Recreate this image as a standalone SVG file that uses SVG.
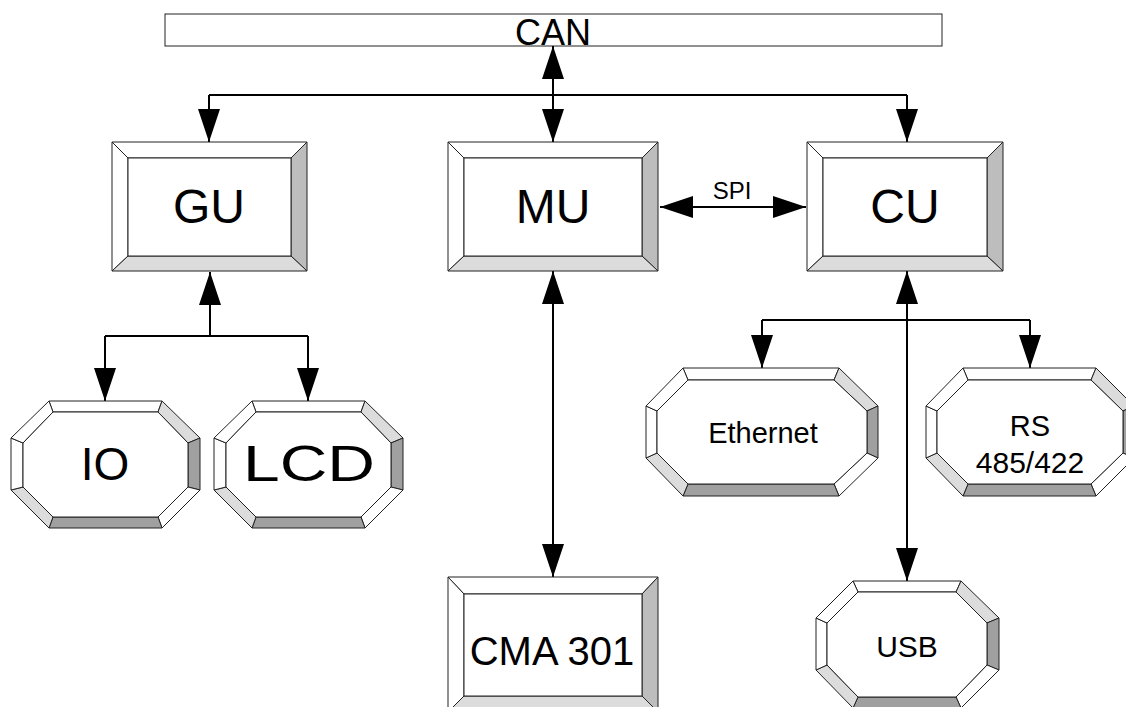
<svg xmlns="http://www.w3.org/2000/svg" width="1126" height="707" viewBox="0 0 1126 707">
<style>
.o{stroke:#222;stroke-width:1;stroke-linejoin:miter}
.w{fill:#ffffff}
.l{fill:#dcdcdc}
.m{fill:#bdbdbd}
.d{fill:#a0a0a0}
.t{font-family:"Liberation Sans",Arial,sans-serif;fill:#000;text-anchor:middle}
.c{stroke:#000;stroke-width:2;fill:none}
</style>
<defs>
<marker id="ah" markerUnits="userSpaceOnUse" markerWidth="33" markerHeight="22" refX="33" refY="11" orient="auto-start-reverse">
<path d="M0,0 L33,11 L0,22 z" fill="#000"/>
</marker>
</defs>
<rect width="1126" height="707" fill="#fff"/>

<g id="can">
<rect x="165" y="14" width="777" height="32" fill="#fff" class="o"/>
<text class="t" x="553" y="45" font-size="36">CAN</text>
</g>

<g id="connectors">
<path class="c" d="M553,46 L553,142" marker-start="url(#ah)" marker-end="url(#ah)"/>
<path class="c" d="M209,95 L907,95"/>
<path class="c" d="M209,95 L209,142" marker-end="url(#ah)"/>
<path class="c" d="M907,95 L907,142" marker-end="url(#ah)"/>
<path class="c" d="M660,207 L806,207" marker-start="url(#ah)" marker-end="url(#ah)"/>
<path class="c" d="M210,336 L210,272" marker-end="url(#ah)"/>
<path class="c" d="M105,336 L308,336"/>
<path class="c" d="M105,336 L105,401" marker-end="url(#ah)"/>
<path class="c" d="M308,336 L308,401" marker-end="url(#ah)"/>
<path class="c" d="M553,271 L553,577" marker-start="url(#ah)" marker-end="url(#ah)"/>
<path class="c" d="M907,271 L907,581" marker-start="url(#ah)" marker-end="url(#ah)"/>
<path class="c" d="M762,320 L1030,320"/>
<path class="c" d="M762,320 L762,368" marker-end="url(#ah)"/>
<path class="c" d="M1030,320 L1030,368" marker-end="url(#ah)"/>
<text class="t" x="732" y="199" font-size="24">SPI</text>
</g>

<g id="gu">
<polygon class="o w" points="112,142 307,142 291,158 128,158"/>
<polygon class="o w" points="112,142 128,158 128,256 112,271"/>
<polygon class="o m" points="307,142 307,271 291,256 291,158"/>
<polygon class="o l" points="112,271 128,256 291,256 307,271"/>
<rect class="o w" x="128" y="158" width="163" height="98"/>
<text class="t" x="209" y="223" font-size="48">GU</text>
</g>

<g id="mu">
<polygon class="o w" points="448,142 658,142 642,158 464,158"/>
<polygon class="o w" points="448,142 464,158 464,256 448,271"/>
<polygon class="o m" points="658,142 658,271 642,256 642,158"/>
<polygon class="o l" points="448,271 464,256 642,256 658,271"/>
<rect class="o w" x="464" y="158" width="178" height="98"/>
<text class="t" x="553" y="223" font-size="48">MU</text>
</g>

<g id="cu">
<polygon class="o w" points="807,142 1003,142 987,158 823,158"/>
<polygon class="o w" points="807,142 823,158 823,256 807,271"/>
<polygon class="o m" points="1003,142 1003,271 987,256 987,158"/>
<polygon class="o l" points="807,271 823,256 987,256 1003,271"/>
<rect class="o w" x="823" y="158" width="164" height="98"/>
<text class="t" x="905" y="223" font-size="48">CU</text>
</g>

<g id="cma301">
<polygon class="o w" points="448,577 658,577 642,594 464,594"/>
<polygon class="o w" points="448,577 464,594 464,696 448,712"/>
<polygon class="o m" points="658,577 658,712 642,696 642,594"/>
<polygon class="o l" points="448,712 464,696 642,696 658,712"/>
<rect class="o w" x="464" y="594" width="178" height="102"/>
<text class="t" x="552" y="665" font-size="40">CMA 301</text>
</g>

<g id="io">
<polygon class="o w" points="49,401 162,401 158,412 53,412"/>
<polygon class="o l" points="162,401 200,438 188,443 158,412"/>
<polygon class="o d" points="200,438 200,490 188,487 188,443"/>
<polygon class="o w" points="200,490 162,528 158,517 188,487"/>
<polygon class="o d" points="162,528 49,528 53,517 158,517"/>
<polygon class="o l" points="49,528 11,490 23,487 53,517"/>
<polygon class="o w" points="11,490 11,438 23,443 23,487"/>
<polygon class="o w" points="11,438 49,401 53,412 23,443"/>
<polygon class="o w" points="53,412 158,412 188,443 188,487 158,517 53,517 23,487 23,443"/>
<text class="t" x="105" y="480" font-size="46">IO</text>
</g>

<g id="lcd">
<polygon class="o w" points="252,401 365,401 361,412 256,412"/>
<polygon class="o l" points="365,401 403,438 391,443 361,412"/>
<polygon class="o d" points="403,438 403,490 391,487 391,443"/>
<polygon class="o w" points="403,490 365,528 361,517 391,487"/>
<polygon class="o d" points="365,528 252,528 256,517 361,517"/>
<polygon class="o l" points="252,528 214,490 226,487 256,517"/>
<polygon class="o w" points="214,490 214,438 226,443 226,487"/>
<polygon class="o w" points="214,438 252,401 256,412 226,443"/>
<polygon class="o w" points="256,412 361,412 391,443 391,487 361,517 256,517 226,487 226,443"/>
<text class="t" x="309" y="481" font-size="50" textLength="132" lengthAdjust="spacingAndGlyphs">LCD</text>
</g>

<g id="ethernet">
<polygon class="o w" points="683,368 839,368 834,380 688,380"/>
<polygon class="o l" points="839,368 878,406 867,411 834,380"/>
<polygon class="o d" points="878,406 878,458 867,453 867,411"/>
<polygon class="o w" points="878,458 839,496 834,484 867,453"/>
<polygon class="o d" points="839,496 683,496 688,484 834,484"/>
<polygon class="o l" points="683,496 646,458 657,453 688,484"/>
<polygon class="o w" points="646,458 646,406 657,411 657,453"/>
<polygon class="o w" points="646,406 683,368 688,380 657,411"/>
<polygon class="o w" points="688,380 834,380 867,411 867,453 834,484 688,484 657,453 657,411"/>
<text class="t" x="763" y="443" font-size="29">Ethernet</text>
</g>

<g id="rs485">
<polygon class="o w" points="963,368 1096,368 1091,380 968,380"/>
<polygon class="o l" points="1096,368 1134,406 1123,411 1091,380"/>
<polygon class="o d" points="1134,406 1134,458 1123,453 1123,411"/>
<polygon class="o w" points="1134,458 1096,496 1091,484 1123,453"/>
<polygon class="o d" points="1096,496 963,496 968,484 1091,484"/>
<polygon class="o l" points="963,496 926,458 937,453 968,484"/>
<polygon class="o w" points="926,458 926,406 937,411 937,453"/>
<polygon class="o w" points="926,406 963,368 968,380 937,411"/>
<polygon class="o w" points="968,380 1091,380 1123,411 1123,453 1091,484 968,484 937,453 937,411"/>
<text class="t" x="1030" y="436" font-size="29">RS</text>
<text class="t" x="1030" y="473" font-size="30">485/422</text>
</g>

<g id="usb">
<polygon class="o w" points="853,581 961,581 956,592 858,592"/>
<polygon class="o l" points="961,581 999,618 987,623 956,592"/>
<polygon class="o d" points="999,618 999,670 987,665 987,623"/>
<polygon class="o w" points="999,670 961,708 956,697 987,665"/>
<polygon class="o d" points="961,708 853,708 858,697 956,697"/>
<polygon class="o l" points="853,708 816,670 827,665 858,697"/>
<polygon class="o w" points="816,670 816,618 827,623 827,665"/>
<polygon class="o w" points="816,618 853,581 858,592 827,623"/>
<polygon class="o w" points="858,592 956,592 987,623 987,665 956,697 858,697 827,665 827,623"/>
<text class="t" x="907" y="657" font-size="30">USB</text>
</g>
</svg>
